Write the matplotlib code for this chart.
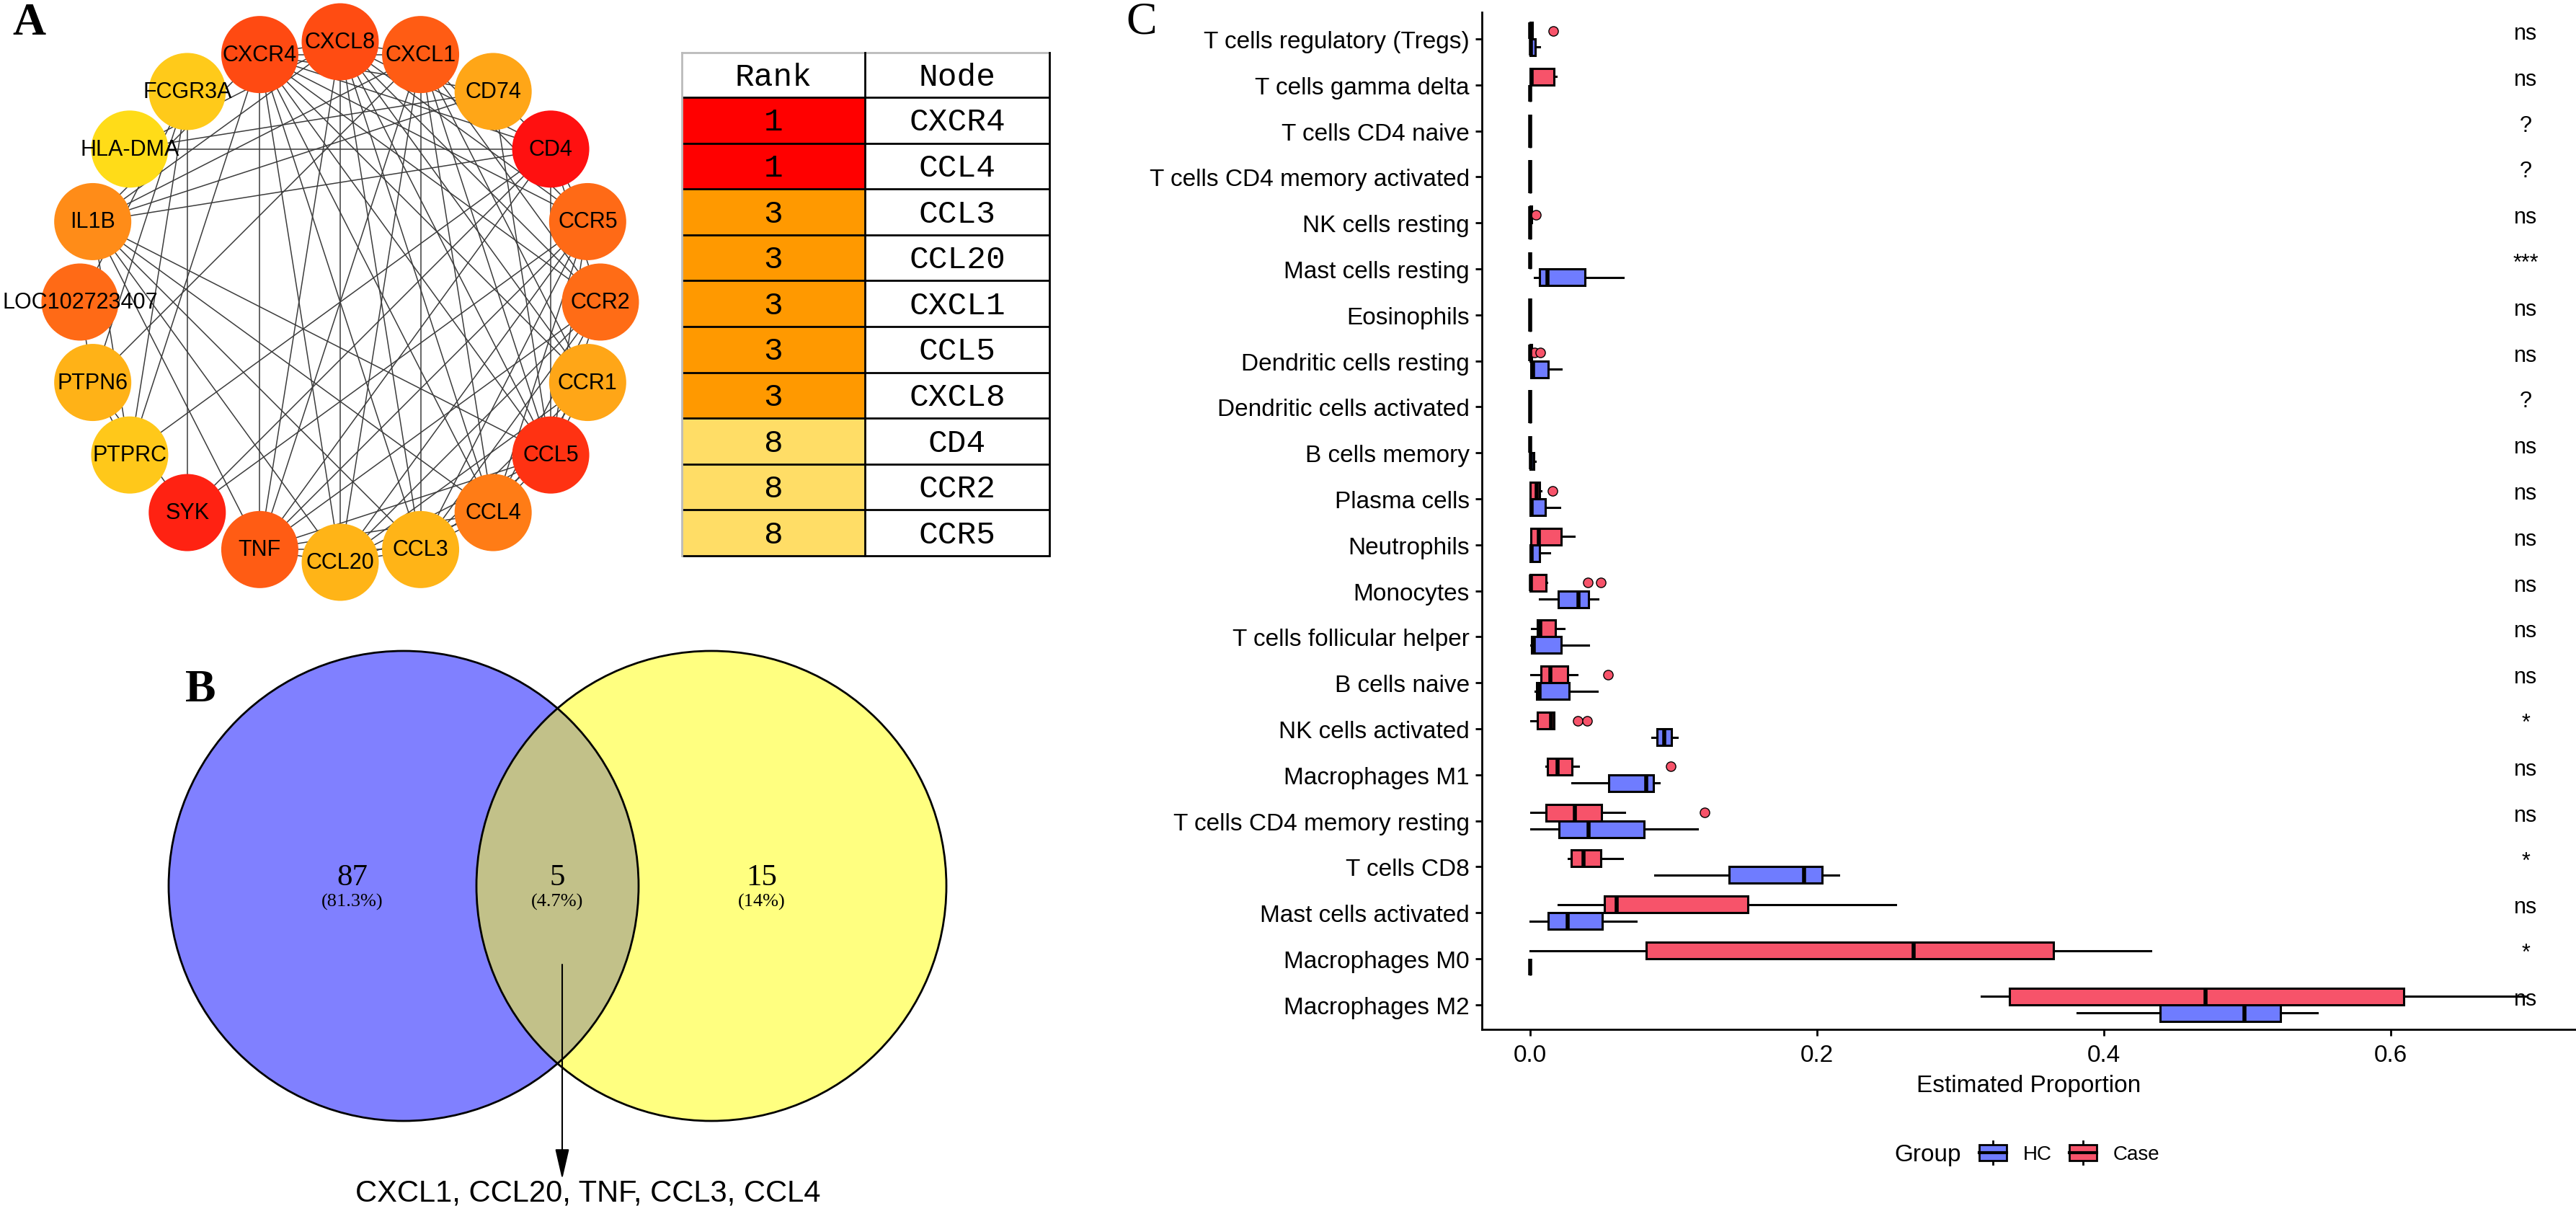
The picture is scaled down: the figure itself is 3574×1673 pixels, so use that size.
import numpy as np
import matplotlib
matplotlib.use("Agg")
import matplotlib.pyplot as plt
from matplotlib.patches import Circle, Rectangle, Patch
from matplotlib.collections import LineCollection
from matplotlib.legend_handler import HandlerBase
from matplotlib.lines import Line2D

plt.rcParams['font.family'] = ['Liberation Sans', 'DejaVu Sans']

# ---------------- Panel A : network ----------------
net_nodes = ["CXCL8", "CXCL1", "CD74", "CD4", "CCR5", "CCR2", "CCR1", "CCL5", "CCL4", "CCL3",
             "CCL20", "TNF", "SYK", "PTPRC", "PTPN6", "LOC102723407", "IL1B", "HLA-DMA",
             "FCGR3A", "CXCR4"]
node_colors = ["#FF4C12", "#FF5C14", "#FFA617", "#FF1010", "#FF6A16", "#FF6C16", "#FFA617",
               "#FF3212", "#FF7C16", "#FFB417", "#FFB417", "#FF5C14", "#FF2212", "#FFC81A",
               "#FFB217", "#FF6A16", "#FF8C18", "#FFDC18", "#FFCA1A", "#FF4A12"]
edges = [
    ("CXCR4", "CXCL8"), ("CXCR4", "CXCL1"), ("CXCR4", "CD4"), ("CXCR4", "CCR5"), ("CXCR4", "CCR2"),
    ("CXCR4", "CCR1"), ("CXCR4", "CCL5"), ("CXCR4", "CCL4"), ("CXCR4", "CCL3"), ("CXCR4", "CCL20"),
    ("CXCR4", "TNF"), ("CXCR4", "IL1B"), ("CXCR4", "PTPRC"), ("CXCR4", "CD74"),
    ("CXCL8", "CXCL1"), ("CXCL8", "CCR5"), ("CXCL8", "CCR2"), ("CXCL8", "CCR1"), ("CXCL8", "CCL5"),
    ("CXCL8", "CCL4"), ("CXCL8", "CCL3"), ("CXCL8", "CCL20"), ("CXCL8", "TNF"), ("CXCL8", "IL1B"),
    ("CXCL8", "CD4"), ("CXCL8", "HLA-DMA"),
    ("CXCL1", "CCR2"), ("CXCL1", "CCR1"), ("CXCL1", "CCL5"), ("CXCL1", "CCL4"), ("CXCL1", "CCL3"),
    ("CXCL1", "CCL20"), ("CXCL1", "TNF"), ("CXCL1", "IL1B"), ("CXCL1", "CCR5"), ("CXCL1", "PTPN6"),
    ("CD74", "HLA-DMA"), ("CD74", "CD4"), ("CD74", "CCL5"), ("CD74", "IL1B"),
    ("CD4", "HLA-DMA"), ("CD4", "IL1B"), ("CD4", "PTPRC"), ("CD4", "CCR5"), ("CD4", "CCR2"),
    ("CD4", "CCL5"), ("CD4", "TNF"), ("CD4", "SYK"),
    ("CCR5", "CCL5"), ("CCR5", "CCL4"), ("CCR5", "CCL3"), ("CCR5", "CCL20"), ("CCR5", "TNF"),
    ("CCR2", "CCL5"), ("CCR2", "CCL4"), ("CCR2", "CCL3"), ("CCR2", "CCL20"), ("CCR2", "TNF"),
    ("CCR1", "CCL5"), ("CCR1", "CCL4"), ("CCR1", "CCL3"), ("CCR1", "CCL20"),
    ("CCL5", "CCL4"), ("CCL5", "CCL3"), ("CCL5", "CCL20"), ("CCL5", "IL1B"), ("CCL5", "TNF"),
    ("CCL4", "CCL3"), ("CCL4", "CCL20"), ("CCL4", "TNF"), ("CCL4", "IL1B"),
    ("CCL3", "CCL20"), ("CCL3", "TNF"), ("CCL3", "IL1B"),
    ("CCL20", "TNF"), ("CCL20", "IL1B"), ("TNF", "IL1B"),
    ("SYK", "FCGR3A"), ("SYK", "PTPN6"), ("SYK", "CCR5"),
    ("PTPRC", "PTPN6"), ("PTPRC", "FCGR3A"), ("PTPN6", "FCGR3A"), ("PTPN6", "LOC102723407"),
    ("LOC102723407", "FCGR3A"), ("IL1B", "PTPRC"),
]

# ---------------- Table ----------------
rank_vals = [1, 1, 3, 3, 3, 3, 3, 8, 8, 8]
rank_nodes = ["CXCR4", "CCL4", "CCL3", "CCL20", "CXCL1", "CCL5", "CXCL8", "CD4", "CCR2", "CCR5"]
rank_colors = {1: "#FF0000", 3: "#FF9900", 8: "#FFDD66"}

# ---------------- Panel B : Venn ----------------
venn_counts = ["87", "5", "15"]
venn_pcts = ["(81.3%)", "(4.7%)", "(14%)"]
shared_genes = ["CXCL1", "CCL20", "TNF", "CCL3", "CCL4"]

# ---------------- Panel C : boxplots (top to bottom) ----------------
cells = ["T cells regulatory (Tregs)", "T cells gamma delta", "T cells CD4 naive",
         "T cells CD4 memory activated", "NK cells resting", "Mast cells resting", "Eosinophils",
         "Dendritic cells resting", "Dendritic cells activated", "B cells memory", "Plasma cells",
         "Neutrophils", "Monocytes", "T cells follicular helper", "B cells naive",
         "NK cells activated", "Macrophages M1", "T cells CD4 memory resting", "T cells CD8",
         "Mast cells activated", "Macrophages M0", "Macrophages M2"]
signif = ["ns", "ns", "?", "?", "ns", "***", "ns", "ns", "?", "ns", "ns", "ns", "ns", "ns", "ns",
          "*", "ns", "ns", "*", "ns", "*", "ns"]

hc_low = [0, 0, 0, 0, 0, 0.0032, 0, 0.0007, 0, 0, 0, 0, 0.0064, 0.0003, 0.0037, 0.0847, 0.0293,
          0.0003, 0.0869, 0, 0, 0.3814]
hc_q1 = [0, 0, 0, 0, 0, 0.0067, 0, 0.0007, 0, 0, 0, 0, 0.0196, 0.001, 0.0046, 0.0885, 0.0546,
         0.0201, 0.1385, 0.0124, 0, 0.439]
hc_med = [0.0005, 0, 0, 0, 0, 0.012, 0, 0.0018, 0, 0.0003, 0.001, 0.001, 0.0335, 0.0025, 0.0066,
          0.0934, 0.081, 0.0405, 0.191, 0.026, 0, 0.4978]
hc_q3 = [0.0035, 0, 0, 0, 0, 0.0384, 0, 0.0123, 0, 0.0025, 0.0107, 0.0066, 0.0407, 0.0218, 0.0272,
         0.0984, 0.086, 0.0793, 0.2036, 0.0501, 0, 0.523]
hc_high = [0.0067, 0, 0, 0, 0, 0.065, 0, 0.0215, 0, 0.0035, 0.0207, 0.0133, 0.047, 0.0407, 0.0467,
           0.1026, 0.090, 0.1165, 0.2148, 0.0737, 0, 0.5485]
hc_out = [[] for _ in cells]

case_low = [0, 0, 0, 0, 0, 0, 0, 0, 0, 0, 0, 0.0003, 0, 0.001, 0.0003, 0.0003, 0.0109, 0.0003,
            0.0266, 0.0198, 0, 0.3146]
case_q1 = [0, 0, 0, 0, 0, 0, 0, 0, 0, 0, 0, 0.0003, 0, 0.0048, 0.0073, 0.005, 0.0118, 0.0109,
           0.0284, 0.0515, 0.0809, 0.334]
case_med = [0, 0.001, 0, 0, 0, 0, 0, 0, 0, 0, 0.0044, 0.006, 0.0005, 0.0071, 0.0138, 0.0145,
            0.0189, 0.031, 0.0373, 0.0604, 0.2673, 0.4706]
case_q3 = [0.0015, 0.0163, 0, 0, 0.001, 0, 0, 0.001, 0, 0, 0.0064, 0.0216, 0.011, 0.0178, 0.0259,
           0.0163, 0.029, 0.0499, 0.049, 0.1515, 0.365, 0.609]
case_high = [0.0015, 0.018, 0, 0, 0.001, 0, 0, 0.001, 0, 0, 0.0075, 0.0306, 0.0115, 0.0234, 0.0324,
             0.0163, 0.0335, 0.066, 0.0643, 0.2545, 0.4327, 0.694]
case_out = [[0.016], [], [], [], [0.0042], [], [], [0.0032, 0.007], [], [], [0.0156], [],
            [0.0403, 0.049], [], [0.0544], [0.0329, 0.0396], [0.0981], [0.1217], [], [], [], []]

groups = ["HC", "Case"]
group_colors = ["#6F7CFF", "#F7536A"]

# ================= Figure =================
W, H, DPI = 3574, 1674, 100
fig = plt.figure(figsize=(W / DPI, H / DPI), dpi=DPI)
fig.patch.set_facecolor("white")

ax0 = fig.add_axes([0, 0, 1, 1])
ax0.set_xlim(0, W)
ax0.set_ylim(H, 0)
ax0.axis("off")

# ---- network (circular layout) ----
cx, cy, R = 472, 420, 361
ang = np.deg2rad(90 - 18 * np.arange(len(net_nodes)))
pos = {n: (cx + R * np.cos(a), cy - R * np.sin(a)) for n, a in zip(net_nodes, ang)}
segs = [[pos[a], pos[b]] for a, b in edges]
ax0.add_collection(LineCollection(segs, colors="#3c3c3c", linewidths=1.1, zorder=1))
for n, c in zip(net_nodes, node_colors):
    ax0.add_patch(Circle(pos[n], 53.5, facecolor=c, edgecolor="none", zorder=2))
    ax0.text(pos[n][0], pos[n][1], n, ha="center", va="center", fontsize=22, color="black", zorder=3)

ax0.text(40, 48, "A", ha="center", va="baseline", fontsize=46, family="Liberation Serif",
         weight="bold")

# ---- table ----
tl, tr, tm = 946, 1456, 1200
ttop, thead = 74, 136
rowh = (772 - thead) / len(rank_vals)
tfont = dict(family=["Liberation Mono", "DejaVu Sans Mono"], fontsize=32)
ax0.add_patch(Rectangle((tl, ttop), tr - tl, thead - ttop, facecolor="white", edgecolor="none"))
ax0.text((tl + tm) / 2, (ttop + thead) / 2 + 2, "Rank", ha="center", va="center", **tfont)
ax0.text((tm + tr) / 2, (ttop + thead) / 2 + 2, "Node", ha="center", va="center", **tfont)
for i, (r, n) in enumerate(zip(rank_vals, rank_nodes)):
    y0 = thead + i * rowh
    ax0.add_patch(Rectangle((tl, y0), tm - tl, rowh, facecolor=rank_colors[r], edgecolor="none"))
    ax0.text((tl + tm) / 2, y0 + rowh / 2 + 2, str(r), ha="center", va="center", **tfont)
    ax0.text((tm + tr) / 2, y0 + rowh / 2 + 2, n, ha="center", va="center", **tfont)
for i in range(len(rank_vals) + 1):
    y = thead + i * rowh
    ax0.plot([tl, tr], [y, y], color="black", lw=2, solid_capstyle="butt")
ax0.plot([tl, tr], [ttop, ttop], color="#bbbbbb", lw=2)
ax0.plot([tl, tl], [ttop, 772], color="#bbbbbb", lw=2)
ax0.plot([tm, tm], [ttop, 772], color="black", lw=2)
ax0.plot([tr, tr], [ttop, 772], color="black", lw=2)

# ---- Venn ----
lc, rc, vr = (560, 1230), (987, 1230), 326
ax0.add_patch(Circle(lc, vr, facecolor="#8080FF", edgecolor="none", zorder=1))
ax0.add_patch(Circle(rc, vr, facecolor="#FFFF80", edgecolor="none", zorder=1))
inter = Circle(rc, vr, facecolor="#C2C189", edgecolor="none", zorder=2)
ax0.add_patch(inter)
clipc = Circle(lc, vr, transform=ax0.transData)
inter.set_clip_path(clipc)
ax0.add_patch(Circle(lc, vr, facecolor="none", edgecolor="black", lw=2, zorder=3))
ax0.add_patch(Circle(rc, vr, facecolor="none", edgecolor="black", lw=2, zorder=3))
for xx, c, p in zip([489, 773, 1057], venn_counts, venn_pcts):
    ax0.text(xx, 1228, c, ha="center", va="baseline", fontsize=31, family="Liberation Serif", zorder=4)
    ax0.text(xx, 1258, p, ha="center", va="baseline", fontsize=19, family="Liberation Serif", zorder=4)
ax0.annotate("", xy=(780, 1637), xytext=(780, 1339),
             arrowprops=dict(arrowstyle="-|>,head_length=1.3,head_width=0.3", color="black",
                             lw=1.5, mutation_scale=20, shrinkA=0, shrinkB=0), zorder=5)
ax0.text(816, 1667, ", ".join(shared_genes), ha="center", va="baseline", fontsize=30, zorder=5)
ax0.text(278, 973, "B", ha="center", va="baseline", fontsize=46, family="Liberation Serif",
         weight="bold")
ax0.text(1584, 46, "C", ha="center", va="baseline", fontsize=46, family="Liberation Serif")

# ---- Panel C boxplot ----
ax = fig.add_axes([2056 / W, 1 - 1429 / H, (W - 2056) / W, (1429 - 18) / H])
n = len(cells)
ypos = np.arange(n)[::-1]  # top category gets highest position
bw = 0.36
gdata = [(hc_low, hc_q1, hc_med, hc_q3, hc_high, hc_out),
         (case_low, case_q1, case_med, case_q3, case_high, case_out)]
offs = [-bw / 2, bw / 2]
for (lo, q1, me, q3, hi, out), col, off in zip(gdata, group_colors, offs):
    stats = [dict(whislo=lo[i], q1=q1[i], med=me[i], q3=q3[i], whishi=hi[i], fliers=out[i])
             for i in range(n)]
    ax.bxp(stats, positions=ypos + off, widths=bw, orientation="horizontal", patch_artist=True,
           showcaps=False, showfliers=True,
           boxprops=dict(facecolor=col, edgecolor="black", linewidth=2.2),
           medianprops=dict(color="black", linewidth=4, solid_capstyle="butt"),
           whiskerprops=dict(color="black", linewidth=2.2),
           flierprops=dict(marker="o", markerfacecolor=col, markeredgecolor="black",
                           markeredgewidth=1, markersize=9.5))
for yy, s in zip(ypos, signif):
    ax.text(0.694, yy, s, ha="center", va="baseline", fontsize=22)

ax.set_ylim(-0.535, 21.58)
ax.set_xlim(-0.0337, 0.7291)
ax.set_yticks(ypos)
ax.set_yticklabels(cells, fontsize=24)
ax.set_xticks([0, 0.2, 0.4, 0.6])
ax.set_xticklabels(["0.0", "0.2", "0.4", "0.6"], fontsize=24)
ax.tick_params(axis="both", direction="out", length=6.5, width=2, color="black", pad=6)
ax.tick_params(axis="x", pad=8)
for s in ["top", "right"]:
    ax.spines[s].set_visible(False)
for s in ["left", "bottom"]:
    ax.spines[s].set_linewidth(2)
    ax.spines[s].set_color("black")
ax.set_xlabel("Estimated Proportion", fontsize=24, labelpad=8)
ax.set_facecolor("none")


class BoxKey(HandlerBase):
    def create_artists(self, legend, orig_handle, xdescent, ydescent, width, height, fontsize, trans):
        fc = orig_handle.get_facecolor()
        x0, y0 = -xdescent, -ydescent
        r = Rectangle((x0, y0 + 0.17 * height), width, 0.66 * height, facecolor=fc,
                      edgecolor="black", lw=2, transform=trans)
        m = Line2D([x0, x0 + width], [y0 + 0.5 * height] * 2, color="black", lw=3, transform=trans)
        w1 = Line2D([x0 + width / 2] * 2, [y0, y0 + 0.17 * height], color="black", lw=2, transform=trans)
        w2 = Line2D([x0 + width / 2] * 2, [y0 + 0.83 * height, y0 + height], color="black", lw=2,
                    transform=trans)
        return [w1, w2, r, m]


handles = [Patch(facecolor=c) for c in group_colors]
fig.legend(handles, groups, loc="center left", bbox_to_anchor=(2746 / W, 1 - 1600 / H), ncol=2,
           frameon=False, fontsize=20, handlelength=1.37, handleheight=1.44, handletextpad=0.83,
           columnspacing=0.86, borderpad=0, borderaxespad=0, handler_map={Patch: BoxKey()})
fig.text(2628 / W, 1 - 1611 / H, "Group", ha="left", va="baseline", fontsize=24)

fig.savefig("out.png", dpi=DPI)
